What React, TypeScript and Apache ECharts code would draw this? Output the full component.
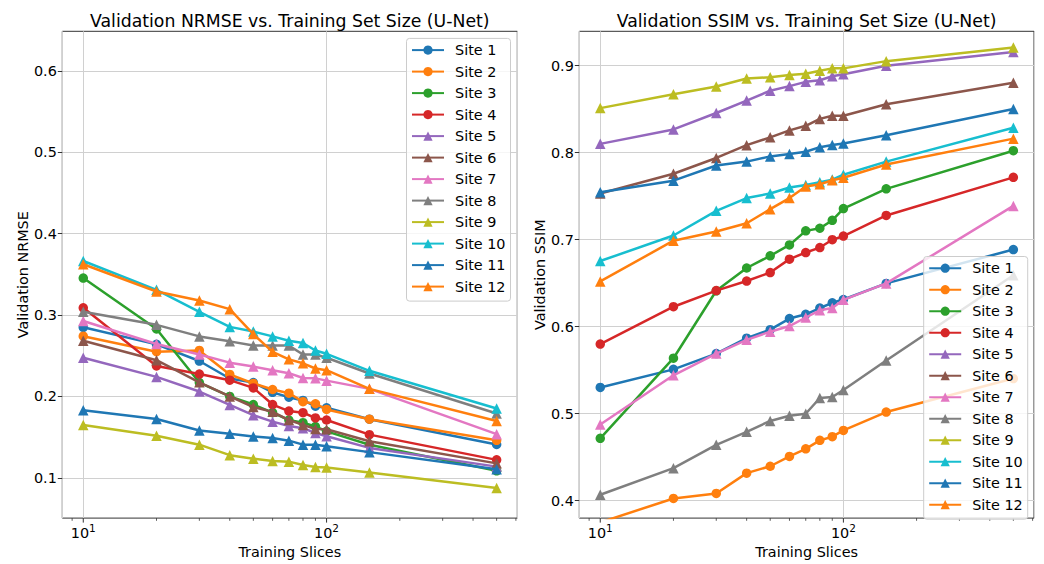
import React, { useEffect, useRef } from 'react';
import * as echarts from 'echarts';

const SLICES = [10, 20, 30, 40, 50, 60, 70, 80, 90, 100, 150, 500];
const SITES = ['Site 1', 'Site 2', 'Site 3', 'Site 4', 'Site 5', 'Site 6', 'Site 7', 'Site 8', 'Site 9', 'Site 10', 'Site 11', 'Site 12'];
const COLORS = ['#1f77b4', '#ff7f0e', '#2ca02c', '#d62728', '#9467bd', '#8c564b', '#e377c2', '#7f7f7f', '#bcbd22', '#17becf', '#1f77b4', '#ff7f0e'];
const MARKERS = ['circle', 'circle', 'circle', 'circle', 'triangle', 'triangle', 'triangle', 'triangle', 'triangle', 'triangle', 'triangle', 'triangle'];

// Validation NRMSE per site
const NRMSE_SITE1 = [0.285, 0.264, 0.2435, 0.222, 0.217, 0.205, 0.199, 0.195, 0.188, 0.186, 0.172, 0.141];
const NRMSE_SITE2 = [0.274, 0.255, 0.2565, 0.227, 0.216, 0.2085, 0.204, 0.1935, 0.191, 0.184, 0.172, 0.146];
const NRMSE_SITE3 = [0.3455, 0.283, 0.217, 0.2, 0.19, 0.18, 0.171, 0.1677, 0.163, 0.157, 0.1405, 0.1085];
const NRMSE_SITE4 = [0.309, 0.2375, 0.2275, 0.22, 0.2105, 0.19, 0.182, 0.18, 0.1735, 0.171, 0.153, 0.122];
const NRMSE_SITE5 = [0.2475, 0.224, 0.206, 0.1895, 0.177, 0.169, 0.1637, 0.161, 0.155, 0.151, 0.1367, 0.1137];
const NRMSE_SITE6 = [0.2685, 0.2445, 0.2173, 0.2, 0.187, 0.181, 0.171, 0.165, 0.16, 0.1597, 0.1448, 0.1177];
const NRMSE_SITE7 = [0.2927, 0.2645, 0.2516, 0.2415, 0.2367, 0.2323, 0.2286, 0.2226, 0.2222, 0.2194, 0.2093, 0.1536];
const NRMSE_SITE8 = [0.304, 0.288, 0.2738, 0.2677, 0.2625, 0.2625, 0.2625, 0.2516, 0.2516, 0.2476, 0.2282, 0.179];
const NRMSE_SITE9 = [0.1649, 0.1516, 0.1407, 0.1278, 0.1234, 0.1206, 0.1198, 0.1157, 0.1133, 0.1125, 0.1065, 0.0875];
const NRMSE_SITE10 = [0.3665, 0.331, 0.304, 0.2855, 0.2798, 0.2738, 0.2685, 0.2657, 0.2565, 0.2524, 0.2315, 0.1851];
const NRMSE_SITE11 = [0.1831, 0.1722, 0.1581, 0.154, 0.1508, 0.1488, 0.1456, 0.1407, 0.1407, 0.1387, 0.1315, 0.1105];
const NRMSE_SITE12 = [0.3625, 0.329, 0.318, 0.3073, 0.2766, 0.2548, 0.2456, 0.2407, 0.2343, 0.2323, 0.2093, 0.1698];

// Validation SSIM per site
const SSIM_SITE1 = [0.5302, 0.551, 0.5691, 0.5868, 0.5966, 0.6094, 0.6143, 0.6215, 0.6275, 0.6313, 0.6498, 0.6887];
const SSIM_SITE2 = [0.375, 0.4026, 0.4083, 0.4317, 0.4396, 0.4509, 0.4596, 0.4694, 0.4736, 0.4808, 0.5019, 0.5404];
const SSIM_SITE3 = [0.4717, 0.5638, 0.6413, 0.6675, 0.6815, 0.694, 0.7102, 0.7132, 0.7223, 0.7358, 0.7585, 0.8023];
const SSIM_SITE4 = [0.58, 0.623, 0.6415, 0.6525, 0.6623, 0.6777, 0.6853, 0.691, 0.7, 0.7042, 0.7279, 0.7717];
const SSIM_SITE5 = [0.8102, 0.8268, 0.8457, 0.86, 0.8713, 0.8766, 0.8815, 0.8834, 0.8879, 0.8902, 0.9, 0.9158];
const SSIM_SITE6 = [0.7532, 0.7758, 0.794, 0.8087, 0.8177, 0.8257, 0.831, 0.8389, 0.8426, 0.8426, 0.8558, 0.8804];
const SSIM_SITE7 = [0.4875, 0.5442, 0.5691, 0.5849, 0.5943, 0.6008, 0.6106, 0.6189, 0.6215, 0.6309, 0.6498, 0.7389];
const SSIM_SITE8 = [0.4068, 0.4374, 0.4642, 0.4792, 0.4917, 0.4977, 0.5, 0.5181, 0.5192, 0.5272, 0.5611, 0.6592];
const SSIM_SITE9 = [0.8513, 0.8672, 0.8762, 0.8853, 0.8868, 0.8894, 0.8909, 0.8943, 0.897, 0.897, 0.9053, 0.9211];
const SSIM_SITE10 = [0.6755, 0.7049, 0.7332, 0.7479, 0.7532, 0.76, 0.763, 0.766, 0.7691, 0.7747, 0.7898, 0.8287];
const SSIM_SITE11 = [0.7547, 0.7679, 0.7853, 0.7898, 0.7958, 0.7985, 0.8011, 0.8064, 0.809, 0.8106, 0.82, 0.8502];
const SSIM_SITE12 = [0.6521, 0.6989, 0.7094, 0.7189, 0.7351, 0.7479, 0.7611, 0.7638, 0.7683, 0.7713, 0.7864, 0.8162];

const NRMSE = [NRMSE_SITE1, NRMSE_SITE2, NRMSE_SITE3, NRMSE_SITE4, NRMSE_SITE5, NRMSE_SITE6, NRMSE_SITE7, NRMSE_SITE8, NRMSE_SITE9, NRMSE_SITE10, NRMSE_SITE11, NRMSE_SITE12];
const SSIM = [SSIM_SITE1, SSIM_SITE2, SSIM_SITE3, SSIM_SITE4, SSIM_SITE5, SSIM_SITE6, SSIM_SITE7, SSIM_SITE8, SSIM_SITE9, SSIM_SITE10, SSIM_SITE11, SSIM_SITE12];

const NRMSE_TICKS = [0.1, 0.2, 0.3, 0.4, 0.5, 0.6];
const SSIM_TICKS = [0.4, 0.5, 0.6, 0.7, 0.8, 0.9];
const X_MAJOR_TICKS = [10, 100];
const X_MINOR_TICKS = [9, 20, 30, 40, 50, 60, 70, 80, 90, 200, 300, 400, 500, 600];

const FONT = 'DejaVu Sans';
const AXIS_COLOR = '#333333';
const GRID_COLOR = '#d0d0d0';

export default function App() {
  const ref = useRef<HTMLDivElement>(null);

  useEffect(() => {
    const chart = echarts.init(ref.current!, null, { renderer: 'svg' });

    const xAxisBase = (gridIndex: number) => ({
      type: 'log',
      gridIndex,
      logBase: 10,
      min: 8.2,
      max: 608,
      name: 'Training Slices',
      nameLocation: 'middle',
      nameGap: 17,
      nameTextStyle: { fontFamily: FONT, fontSize: 14.4, color: '#000' },
      axisLine: { show: false },
      axisTick: { show: false },
      minorTick: { show: false },
      splitLine: { show: true, lineStyle: { color: GRID_COLOR, width: 1 } },
      axisLabel: {
        showMinLabel: false,
        showMaxLabel: false,
        margin: 4,
        formatter: (v: number) => `{b|10}{s|${Math.round(Math.log10(v))}}`,
        rich: {
          b: { fontFamily: FONT, fontSize: 14.4, color: '#000', lineHeight: 18, verticalAlign: 'bottom' },
          s: { fontFamily: FONT, fontSize: 10.5, color: '#000', lineHeight: 12, verticalAlign: 'top' },
        },
      },
    });

    const yAxisBase = (gridIndex: number, min: number, max: number, ticks: number[], name: string) => ({
      type: 'value',
      gridIndex,
      min,
      max,
      splitNumber: 5,
      name,
      nameLocation: 'middle',
      nameGap: 31,
      nameTextStyle: { fontFamily: FONT, fontSize: 14.4, color: '#000' },
      axisLine: { show: false },
      axisTick: { show: true, length: 4.5, customValues: ticks, lineStyle: { color: AXIS_COLOR, width: 1 } },
      splitLine: { show: true, lineStyle: { color: GRID_COLOR, width: 1 } },
      axisLabel: {
        customValues: ticks,
        margin: 5.5,
        fontFamily: FONT,
        fontSize: 14.4,
        color: '#000',
        formatter: (v: number) => v.toFixed(1),
      },
    });

    const series: any[] = [];
    SITES.forEach((name, i) => {
      const common = {
        type: 'line',
        name,
        symbol: MARKERS[i],
        symbolSize: MARKERS[i] === 'circle' ? 9.5 : 10.5,
        showSymbol: true,
        clip: true,
        z: 10 + i,
        color: COLORS[i],
        lineStyle: { width: 2.5, color: COLORS[i] },
        itemStyle: { color: COLORS[i] },
        emphasis: { disabled: true },
      };
      series.push({ ...common, xAxisIndex: 0, yAxisIndex: 0, data: SLICES.map((x, j) => [x, NRMSE[i][j]]) });
      series.push({ ...common, xAxisIndex: 1, yAxisIndex: 1, data: SLICES.map((x, j) => [x, SSIM[i][j]]) });
    });

    const tickSeries = (axisIndex: number, values: number[], len: number, width: number, yRef: number) => ({
      type: 'custom',
      xAxisIndex: axisIndex,
      yAxisIndex: axisIndex,
      clip: false,
      silent: true,
      z: 50,
      data: values.map((v) => [v, yRef]),
      renderItem: (params: any, api: any) => {
        const p = api.coord([api.value(0), api.value(1)]);
        const cs = params.coordSys;
        const bottom = cs.y + cs.height;
        return {
          type: 'line',
          shape: { x1: p[0], y1: bottom, x2: p[0], y2: bottom + len },
          style: { stroke: AXIS_COLOR, lineWidth: width },
        };
      },
    });
    series.push(tickSeries(0, X_MAJOR_TICKS, 4.5, 1, 0.3));
    series.push(tickSeries(0, X_MINOR_TICKS, 2.7, 0.8, 0.3));
    series.push(tickSeries(1, X_MAJOR_TICKS, 4.5, 1, 0.6));
    series.push(tickSeries(1, X_MINOR_TICKS, 2.7, 0.8, 0.6));

    const legendBase = (left: number, top: number) => ({
      data: SITES,
      orient: 'vertical',
      left,
      top,
      z: 100,
      itemWidth: 32,
      itemHeight: 11.5,
      itemGap: 7.5,
      padding: [4.7, 5, 7.5, 4.5],
      backgroundColor: 'rgba(255,255,255,0.8)',
      borderColor: '#cccccc',
      borderWidth: 1,
      borderRadius: 3,
      selectedMode: false,
      textStyle: { fontFamily: FONT, fontSize: 14.4, color: '#000', lineHeight: 14, padding: [0, 0, 0, 6] },
    });

    chart.setOption({
      animation: false,
      backgroundColor: '#ffffff',
      textStyle: { fontFamily: FONT },
      grid: [
        { left: 62.3, top: 31.3, width: 455, height: 494.7, show: true, borderColor: AXIS_COLOR, borderWidth: 1, backgroundColor: 'transparent', containLabel: false },
        { left: 579.3, top: 31.3, width: 454.7, height: 494.7, show: true, borderColor: AXIS_COLOR, borderWidth: 1, backgroundColor: 'transparent', containLabel: false },
      ],
      xAxis: [xAxisBase(0), xAxisBase(1)],
      yAxis: [
        yAxisBase(0, 0.0504, 0.6489, NRMSE_TICKS, 'Validation NRMSE'),
        yAxisBase(1, 0.380, 0.9396, SSIM_TICKS, 'Validation SSIM'),
      ],
      legend: [legendBase(406.5, 38.4), legendBase(923.7, 256.5)],
      graphic: [
        { type: 'text', x: 289.8, y: 21, style: { text: 'Validation NRMSE vs. Training Set Size (U-Net)', fontFamily: FONT, fontSize: 17.3, fill: '#000', textAlign: 'center', textVerticalAlign: 'middle' } },
        { type: 'text', x: 806.6, y: 21, style: { text: 'Validation SSIM vs. Training Set Size (U-Net)', fontFamily: FONT, fontSize: 17.3, fill: '#000', textAlign: 'center', textVerticalAlign: 'middle' } },
      ],
      series,
    });

    return () => chart.dispose();
  }, []);

  return <div ref={ref} style={{ position: 'fixed', left: 0, top: 0, width: 1044, height: 564, background: '#fff' }} />;
}
